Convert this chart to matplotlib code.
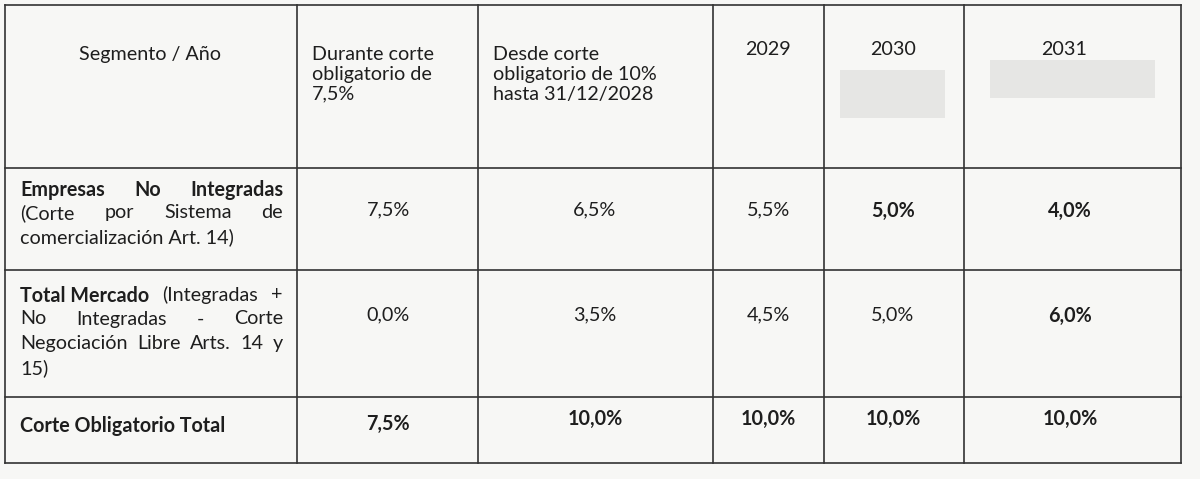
import matplotlib
matplotlib.use("Agg")
import matplotlib.pyplot as plt
from matplotlib.patches import Rectangle

headers = ["Segmento / Año", "Durante corte\nobligatorio de\n7,5%", "Desde corte\nobligatorio de 10%\nhasta 31/12/2028", "2029", "2030", "2031"]
row1_label = [[("Empresas", True), ("No", True), ("Integradas", True)],
              [("(Corte", False), ("por", False), ("Sistema", False), ("de", False)],
              [("comercialización Art. 14)", False)]]
row2_label = [[("Total Mercado", True), ("(Integradas", False), ("+", False)],
              [("No", False), ("Integradas", False), ("-", False), ("Corte", False)],
              [("Negociación", False), ("Libre", False), ("Arts.", False), ("14", False), ("y", False)],
              [("15)", False)]]
row3_label = "Corte Obligatorio Total"
row1_vals = ["7,5%", "6,5%", "5,5%", "5,0%", "4,0%"]
row1_bold = [False, False, False, True, True]
row2_vals = ["0,0%", "3,5%", "4,5%", "5,0%", "6,0%"]
row2_bold = [False, False, False, False, True]
row3_vals = ["7,5%", "10,0%", "10,0%", "10,0%", "10,0%"]

cols = [5, 297, 478, 713, 824, 964, 1181]
rows = [5, 168, 270, 397, 463]
FS = 14.2
FAM = "Lato"
col = "#1e1e1e"

fig = plt.figure(figsize=(12, 4.79), dpi=100, facecolor="#f7f7f5")
ax = fig.add_axes([0, 0, 1, 1])
ax.set_xlim(0, 1200); ax.set_ylim(479, 0); ax.axis("off")
ax.set_facecolor("#f7f7f5")

for x in cols:
    ax.plot([x, x], [rows[0], rows[-1]], color="#333333", lw=1.2)
for y in rows:
    ax.plot([cols[0], cols[-1]], [y, y], color="#333333", lw=1.2)

ax.add_patch(Rectangle((840, 70), 105, 48, color="#e6e6e4", lw=0))
ax.add_patch(Rectangle((990, 60), 165, 38, color="#e6e6e4", lw=0))

kw = dict(fontsize=FS, family=FAM, color=col, va="top", linespacing=1.2)
ax.text(150, 46, headers[0], ha="center", **kw)
ax.text(312, 46, headers[1], ha="left", **kw)
ax.text(493, 46, headers[2], ha="left", **kw)
ax.text(768, 41, headers[3], ha="center", **kw)
ax.text(893, 41, headers[4], ha="center", **kw)
ax.text(1064, 41, headers[5], ha="center", **kw)

fig.canvas.draw()
r = fig.canvas.get_renderer()

def width(s, bold):
    t = ax.text(0, 0, s, fontsize=FS, family=FAM, weight="bold" if bold else "normal")
    bb = t.get_window_extent(r)
    t.remove()
    return bb.width * 1200 / fig.bbox.width

def justify(lines, y0, dy, left=20, right=283):
    for i, line in enumerate(lines):
        y = y0 + i * dy
        ws = [width(s, b) for s, b in line]
        last = i == len(lines) - 1
        if len(line) > 1 and not last:
            gap = (right - left - sum(ws)) / (len(line) - 1)
        else:
            gap = width(" ", False)
        x = left
        for (s, b), w in zip(line, ws):
            ax.text(x, y, s, ha="left", va="top", fontsize=FS, family=FAM, color=col,
                    weight="bold" if b else "normal")
            x += w + gap

justify(row1_label, 180, 24)
justify(row2_label, 286, 24.5)
ax.text(20, 416, row3_label, fontsize=FS, family=FAM, color=col, weight="bold", va="top", ha="left")

centers = [388, 595, 768, 893, 1070]
for i in range(5):
    ax.text(centers[i], 201, row1_vals[i], ha="center", va="top", fontsize=FS, family=FAM,
            color=col, weight="bold" if row1_bold[i] else "normal")
    ax.text(centers[i], 306, row2_vals[i], ha="center", va="top", fontsize=FS, family=FAM,
            color=col, weight="bold" if row2_bold[i] else "normal")
    ax.text(centers[i], 414 if i == 0 else 409, row3_vals[i], ha="center", va="top", fontsize=FS,
            family=FAM, color=col, weight="bold")

fig.savefig("out.png", dpi=100, facecolor=fig.get_facecolor())
